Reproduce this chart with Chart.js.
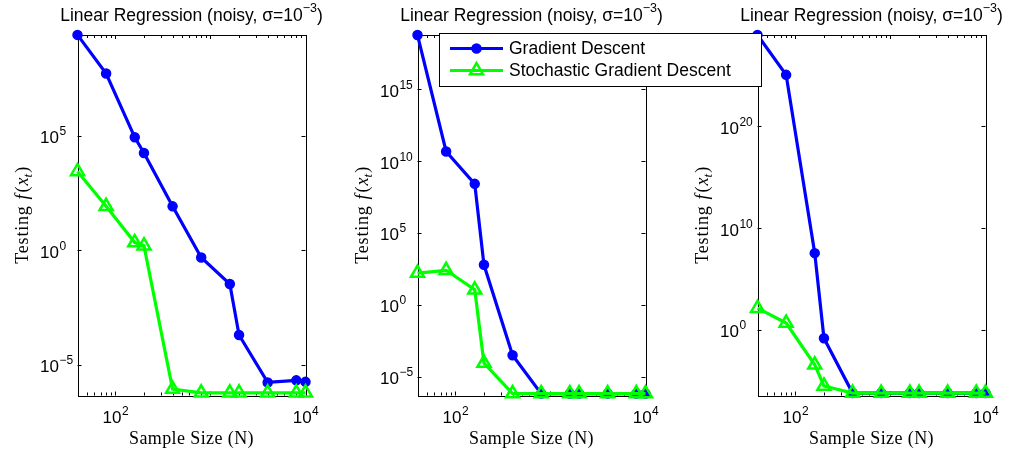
<!DOCTYPE html>
<html>
<head>
<meta charset="utf-8">
<script src="https://cdn.jsdelivr.net/npm/chart.js@4/dist/chart.umd.min.js"></script>
<style>
  html, body { margin: 0; padding: 0; background: #fff; }
  #wrap { position: relative; width: 1010px; height: 450px; }
  #wrap canvas { position: absolute; left: 0; top: 0; }
</style>
</head>
<body>
<div id="wrap">
  <canvas id="panel1" width="1010" height="450"></canvas>
  <canvas id="panel3" width="1010" height="450"></canvas>
  <canvas id="panel2" width="1010" height="450"></canvas>
</div>
<script>
// sample sizes shared by all three panels
const sampleSizes = [40, 80, 160, 200, 400, 800, 1600, 2000, 4000, 8000, 10000];
const seriesNames = ["Gradient Descent", "Stochastic Gradient Descent"];

// testing error
const gd1 = [2.6e9, 5.3e7, 8.7e4, 1.8e4, 84, 0.49, 0.034, 2e-4, 1.7e-6, 2.1e-6, 1.8e-6];
const sgd1 = [2.8e3, 84, 2.2, 1.6, 8.7e-7, 6e-7, 6e-7, 6e-7, 6e-7, 6e-7, 6e-7];

const gd2 = [6e18, 4.7e10, 2.6e8, 600, 3e-4, 6.5e-7, 6.5e-7, 6.5e-7, 6.5e-7, 6.5e-7, 6.5e-7];
const sgd2 = [160, 250, 11, 8.7e-5, 6.5e-7, 6.5e-7, 6.5e-7, 6.5e-7, 6.5e-7, 6.5e-7, 6.5e-7];

const gd3 = [1e29, 1.2e25, 3.5e7, 0.15, 6e-7, 6e-7, 6e-7, 6e-7, 6e-7, 6e-7, 6e-7];
const sgd3 = [135, 4.6, 3.6e-4, 3e-6, 6e-7, 6e-7, 6e-7, 6e-7, 6e-7, 6e-7, 6e-7];

// tick labels are powers of ten
const xTickExps = [2, 4];
const yTickExps1 = [-5, 0, 5];
const yTickExps2 = [-5, 0, 5, 10, 15];
const yTickExps3 = [0, 10, 20];

const titleText = "Linear Regression (noisy, \u03c3=10";
const titleSup = "\u22123";

const BLUE = "#0000ff";
const GREEN = "#00ff00";
const SANS = '"Liberation Sans", Arial, sans-serif';
const SERIF = '"Liberation Serif", "Times New Roman", serif';

function drawPower(ctx, exp, x, y, centered) {
  const base = "10";
  const sup = String(exp).replace("-", "\u2212");
  ctx.font = "17px " + SANS;
  const wb = ctx.measureText(base).width;
  ctx.font = "12px " + SANS;
  const ws = ctx.measureText(sup).width;
  const x0 = centered ? x - (wb + ws) / 2 : x;
  ctx.font = "17px " + SANS;
  ctx.fillText(base, x0, y);
  ctx.font = "12px " + SANS;
  ctx.fillText(sup, x0 + wb + 0.5, y - 8);
}

const matlabAxes = {
  id: "matlabAxes",
  beforeDatasetsDraw(chart, args, opts) {
    const { ctx, chartArea: a, scales } = chart;
    ctx.save();
    ctx.strokeStyle = "#000";
    ctx.lineWidth = 1;
    ctx.strokeRect(Math.round(a.left) + 0.5, Math.round(a.top) + 0.5,
      Math.round(a.right - a.left), Math.round(a.bottom - a.top));

    // x ticks, major at decades, minor in between
    ctx.beginPath();
    for (let e = 1; e <= 4; e++) {
      for (let k = 1; k <= 9; k++) {
        const v = k * Math.pow(10, e);
        if (v < scales.x.min - 1e-9 || v > scales.x.max + 1e-9) continue;
        const px = Math.round(scales.x.getPixelForValue(v)) + 0.5;
        const len = k === 1 ? 4 : 3;
        ctx.moveTo(px, a.bottom); ctx.lineTo(px, a.bottom - len);
        ctx.moveTo(px, a.top); ctx.lineTo(px, a.top + len);
      }
    }
    // y ticks at labelled decades
    opts.yTickExps.forEach(e => {
      const py = Math.round(scales.y.getPixelForValue(Math.pow(10, e))) + 0.5;
      ctx.moveTo(a.left, py); ctx.lineTo(a.left + 4, py);
      ctx.moveTo(a.right, py); ctx.lineTo(a.right - 4, py);
    });
    ctx.stroke();
    ctx.restore();
  },
  afterDraw(chart, args, opts) {
    const { ctx, chartArea: a, scales } = chart;
    const cx = (a.left + a.right) / 2;
    ctx.save();
    ctx.fillStyle = "#000";
    ctx.textAlign = "left";
    ctx.textBaseline = "alphabetic";

    // tick labels
    xTickExps.forEach(e => {
      drawPower(ctx, e, scales.x.getPixelForValue(Math.pow(10, e)), a.bottom + 27.5, true);
    });
    opts.yTickExps.forEach(e => {
      drawPower(ctx, e, a.left - 37.5, scales.y.getPixelForValue(Math.pow(10, e)) + 7.5, false);
    });

    // title
    ctx.font = "17.5px " + SANS;
    const w1 = ctx.measureText(titleText).width;
    const w3 = ctx.measureText(")").width;
    ctx.font = "12.5px " + SANS;
    const w2 = ctx.measureText(titleSup).width;
    let tx = cx - (w1 + w2 + w3) / 2;
    ctx.font = "17.5px " + SANS;
    ctx.fillText(titleText, tx, 20.5);
    ctx.font = "12.5px " + SANS;
    ctx.fillText(titleSup, tx + w1, 11.5);
    ctx.font = "17.5px " + SANS;
    ctx.fillText(")", tx + w1 + w2, 20.5);

    // x label
    ctx.font = "18px " + SERIF;
    ctx.textAlign = "center";
    ctx.letterSpacing = "0.4px";
    ctx.fillText("Sample Size (N)", cx, 443.5);
    ctx.letterSpacing = "0px";

    // y label, rotated
    ctx.translate(a.left - 50, (a.top + a.bottom) / 2);
    ctx.rotate(-Math.PI / 2);
    ctx.textAlign = "left";
    const parts = [
      { t: "Testing", f: "18px " + SERIF, dy: 0, gap: 6, ls: "0.8px" },
      { t: "f", f: "italic 18px " + SERIF, dy: 0, gap: 2 },
      { t: "(", f: "18px " + SERIF, dy: 0, gap: 1 },
      { t: "x", f: "italic 18px " + SERIF, dy: 0, gap: 0 },
      { t: "t", f: "italic 13px " + SERIF, dy: 4, gap: 1 },
      { t: ")", f: "18px " + SERIF, dy: 0, gap: 0 }
    ];
    let total = 0;
    parts.forEach(p => {
      ctx.font = p.f; ctx.letterSpacing = p.ls || "0px";
      p.w = ctx.measureText(p.t).width;
      total += p.w + p.gap;
    });
    let px = -total / 2;
    parts.forEach(p => {
      ctx.font = p.f; ctx.letterSpacing = p.ls || "0px";
      ctx.fillText(p.t, px, p.dy);
      px += p.w + p.gap;
    });
    ctx.letterSpacing = "0px";
    ctx.restore();

    if (opts.legend) drawLegend(chart);
  }
};

function drawLegend(chart) {
  const ctx = chart.ctx;
  const box = { x: 439.5, y: 33.5, w: 322, h: 53 };
  ctx.save();
  ctx.fillStyle = "#fff";
  ctx.fillRect(box.x, box.y, box.w, box.h);
  ctx.strokeStyle = "#000";
  ctx.lineWidth = 1;
  ctx.strokeRect(box.x, box.y, box.w, box.h);
  const rows = [48.5, 70.5];
  const mx = 476.5;
  chart.data.datasets.forEach((ds, i) => {
    const y = rows[i];
    ctx.strokeStyle = ds.borderColor;
    ctx.lineWidth = ds.borderWidth;
    ctx.beginPath();
    ctx.moveTo(450, y); ctx.lineTo(503, y);
    ctx.stroke();
    ctx.fillStyle = ds.pointBackgroundColor;
    ctx.strokeStyle = ds.borderColor;
    ctx.lineWidth = ds.pointBorderWidth;
    ctx.beginPath();
    if (ds.pointStyle === "circle") {
      ctx.arc(mx, y, ds.pointRadius, 0, Math.PI * 2);
    } else {
      const r = ds.pointRadius;
      ctx.moveTo(mx, y - r);
      ctx.lineTo(mx + r * Math.sin(2 * Math.PI / 3), y - r * Math.cos(2 * Math.PI / 3));
      ctx.lineTo(mx + r * Math.sin(4 * Math.PI / 3), y - r * Math.cos(4 * Math.PI / 3));
      ctx.closePath();
    }
    ctx.fill();
    ctx.stroke();
    ctx.fillStyle = "#000";
    ctx.font = "17.5px " + SANS;
    ctx.textBaseline = "middle";
    ctx.fillText(ds.label, 509, y + 0.5);
  });
  ctx.restore();
}

function makeDatasets(gd, sgd) {
  return [
    {
      label: seriesNames[0],
      data: sampleSizes.map((x, i) => ({ x: x, y: gd[i] })),
      borderColor: BLUE, backgroundColor: BLUE,
      pointBackgroundColor: BLUE, pointBorderColor: BLUE,
      borderWidth: 3.2, pointStyle: "circle", pointRadius: 4.5, pointBorderWidth: 1.5,
      tension: 0, clip: false, order: 1
    },
    {
      label: seriesNames[1],
      data: sampleSizes.map((x, i) => ({ x: x, y: sgd[i] })),
      borderColor: GREEN, backgroundColor: GREEN,
      pointBackgroundColor: "rgba(255,255,255,0)", pointBorderColor: GREEN,
      borderWidth: 3.2, pointStyle: "triangle", pointRadius: 7.5, pointBorderWidth: 2.5,
      tension: 0, clip: false, order: 0
    }
  ];
}

function makePanel(id, gd, sgd, left, yMin, yMax, yTickExps, legend) {
  const right = left + 228;
  return new Chart(document.getElementById(id).getContext("2d"), {
    type: "line",
    data: { datasets: makeDatasets(gd, sgd) },
    options: {
      responsive: false,
      devicePixelRatio: 1,
      animation: false,
      events: [],
      layout: { padding: { left: left, right: 1010 - right, top: 35, bottom: 54.5 } },
      plugins: {
        legend: { display: false },
        tooltip: { enabled: false },
        matlabAxes: { yTickExps: yTickExps, legend: legend }
      },
      scales: {
        x: { type: "logarithmic", display: false, min: 40, max: 10000, bounds: "data" },
        y: { type: "logarithmic", display: false, min: yMin, max: yMax, bounds: "data" }
      }
    },
    plugins: [matlabAxes]
  });
}

makePanel("panel1", gd1, sgd1, 77.5, Math.pow(10, -6.34), Math.pow(10, 9.41), yTickExps1, false);
makePanel("panel3", gd3, sgd3, 757.5, Math.pow(10, -6.46), Math.pow(10, 29.0), yTickExps3, false);
makePanel("panel2", gd2, sgd2, 417.5, Math.pow(10, -6.32), Math.pow(10, 18.78), yTickExps2, true);
</script>
</body>
</html>
